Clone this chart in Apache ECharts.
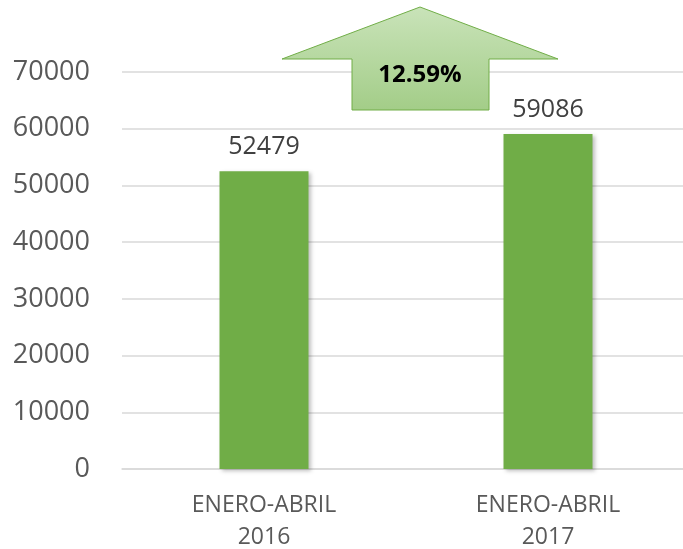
<!DOCTYPE html>
<html>
<head>
<meta charset="utf-8">
<script src="https://cdn.jsdelivr.net/npm/echarts@6/dist/echarts.min.js"></script>
<style>html,body{margin:0;padding:0;background:#fff}#c{width:683px;height:549px}</style>
</head>
<body>
<div id="c"></div>
<script>
var categories = ['ENERO-ABRIL\n2016', 'ENERO-ABRIL\n2017'];
var values = [52479, 59086];
var changeLabel = '12.59%';
var yTicks = [0, 10000, 20000, 30000, 40000, 50000, 60000, 70000];

var chart = echarts.init(document.getElementById('c'), null, {renderer: 'canvas'});
var font = '"Open Sans", "Noto Sans", sans-serif';
chart.setOption({
  animation: false,
  grid: {left: 122, top: 72, width: 568, height: 397, containLabel: false, outerBoundsMode: 'none'},
  xAxis: {
    type: 'category',
    data: categories,
    axisLine: {lineStyle: {color: '#d9d9d9', width: 1.5}},
    axisTick: {show: false},
    axisLabel: {color: '#595959', fontSize: 23, fontFamily: font, margin: 20, lineHeight: 32}
  },
  yAxis: {
    type: 'value',
    min: yTicks[0],
    max: yTicks[yTicks.length - 1],
    interval: 10000,
    axisLine: {show: false},
    axisTick: {show: false},
    splitLine: {lineStyle: {color: '#d9d9d9', width: 1.5}},
    axisLabel: {color: '#595959', fontSize: 27, fontFamily: font, margin: 32, formatter: function (v) { return String(v); }}
  },
  series: [{
    type: 'bar',
    data: values,
    barWidth: 89,
    itemStyle: {color: '#70ad47', shadowColor: 'rgba(0,0,0,0.25)', shadowBlur: 4, shadowOffsetX: 2, shadowOffsetY: 2},
    label: {show: true, position: 'top', distance: 12, color: '#404040', fontSize: 25, fontFamily: font}
  }],
  graphic: [{
    type: 'polygon',
    shape: {points: [[420, 7], [558, 59], [489, 59], [489, 110], [352, 110], [352, 59], [282, 59]]},
    style: {
      fill: new echarts.graphic.LinearGradient(0, 0, 0, 1, [{offset: 0, color: '#c9e3b9'}, {offset: 1, color: '#a3cd88'}]),
      stroke: '#70ad47', lineWidth: 1
    },
    z: 10
  }, {
    type: 'text',
    x: 420, y: 75,
    style: {text: changeLabel, fill: '#000', font: 'bold 24px "Open Sans", sans-serif', align: 'center', verticalAlign: 'middle'},
    z: 11
  }]
});
</script>
</body>
</html>
